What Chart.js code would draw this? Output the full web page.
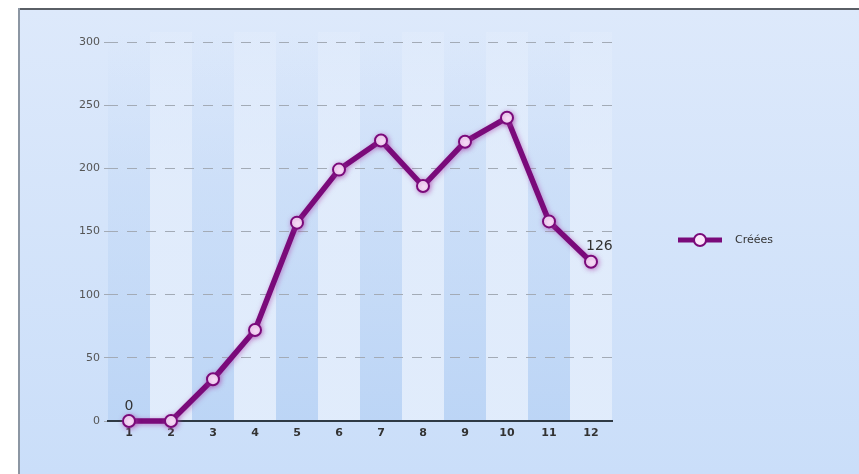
<!DOCTYPE html>
<html>
<head>
<meta charset="utf-8">
<script src="https://cdn.jsdelivr.net/npm/chart.js@4/dist/chart.umd.min.js"></script>
<style>
html,body{margin:0;padding:0;background:#fff;}
#wrap{width:859px;height:474px;position:relative;}
</style>
</head>
<body>
<div id="wrap"><canvas id="c" width="859" height="474"></canvas></div>
<script>
const categories = ['1','2','3','4','5','6','7','8','9','10','11','12'];
const creees = [0, 0, 33, 72, 157, 199, 222, 186, 221, 240, 158, 126];
const seriesLabel = 'Créées';
const yTicks = [0, 50, 100, 150, 200, 250, 300];
const labelledPoints = [0, 11];

const FONT = '"DejaVu Sans", Verdana, sans-serif';

const bgPlugin = {
  id: 'bg',
  beforeDraw(chart) {
    const ctx = chart.ctx;
    ctx.save();
    ctx.fillStyle = '#ffffff';
    ctx.fillRect(0, 0, chart.width, chart.height);
    const g = ctx.createLinearGradient(0, 9, 0, chart.height);
    g.addColorStop(0, '#dde9fb');
    g.addColorStop(1, '#cadef9');
    ctx.fillStyle = g;
    ctx.fillRect(19, 9, chart.width - 19, chart.height - 9);
    ctx.fillStyle = '#5a5f66';
    ctx.fillRect(19, 8, chart.width - 19, 2);
    ctx.fillStyle = '#8c96a3';
    ctx.fillRect(18, 8, 2, chart.height - 8);
    // stripes
    const a = chart.chartArea;
    const xs = chart.scales.x;
    const n = categories.length;
    const bw = (a.right - a.left) / n;
    for (let i = 0; i < n; i++) {
      const cx = xs.getPixelForValue(i);
      const x0 = cx - bw / 2;
      const sg = ctx.createLinearGradient(0, a.top - 10, 0, a.bottom);
      if (i % 2 === 0) {
        sg.addColorStop(0, 'rgba(200,220,247,0.0)');
        sg.addColorStop(0.4, 'rgba(195,217,246,0.5)');
        sg.addColorStop(1, 'rgba(185,211,245,0.85)');
      } else {
        sg.addColorStop(0, 'rgba(236,243,253,0.2)');
        sg.addColorStop(0.4, 'rgba(232,240,252,0.6)');
        sg.addColorStop(1, 'rgba(228,238,252,0.85)');
      }
      ctx.fillStyle = sg;
      ctx.fillRect(x0, a.top - 10, bw, a.bottom - a.top + 10);
    }
    ctx.restore();
  }
};

const shadowPlugin = {
  id: 'lineShadow',
  beforeDatasetDraw(chart) {
    const ctx = chart.ctx;
    ctx.save();
    ctx.shadowColor = 'rgba(170,60,170,0.55)';
    ctx.shadowBlur = 5;
    ctx.shadowOffsetX = 1;
    ctx.shadowOffsetY = 1;
  },
  afterDatasetDraw(chart) {
    chart.ctx.restore();
  }
};

const extrasPlugin = {
  id: 'extras',
  afterDatasetsDraw(chart) {
    const ctx = chart.ctx;
    const meta = chart.getDatasetMeta(0);
    ctx.save();
    ctx.font = '14px ' + FONT;
    ctx.fillStyle = '#333333';
    ctx.textBaseline = 'bottom';
    labelledPoints.forEach(i => {
      const p = meta.data[i];
      ctx.textAlign = i === 0 ? 'center' : 'left';
      const dx = i === 0 ? 0 : -5;
      ctx.fillText(String(creees[i]), p.x + dx, p.y - 8);
    });
    // legend
    const ly = 240;
    ctx.strokeStyle = '#7a0a7a';
    ctx.lineWidth = 5;
    ctx.beginPath();
    ctx.moveTo(678, ly);
    ctx.lineTo(722, ly);
    ctx.stroke();
    ctx.beginPath();
    ctx.arc(700, ly, 6, 0, Math.PI * 2);
    ctx.fillStyle = '#fbe6fb';
    ctx.fill();
    ctx.lineWidth = 2;
    ctx.stroke();
    ctx.font = '11px ' + FONT;
    ctx.fillStyle = '#333333';
    ctx.textAlign = 'left';
    ctx.textBaseline = 'middle';
    ctx.fillText(seriesLabel, 735, ly);
    ctx.restore();
  }
};

new Chart(document.getElementById('c'), {
  type: 'line',
  data: {
    labels: categories,
    datasets: [{
      label: seriesLabel,
      data: creees,
      borderColor: '#7a0a7a',
      borderWidth: 5.5,
      pointRadius: 6,
      pointBackgroundColor: '#fbe6fb',
      pointBorderColor: '#7a0a7a',
      pointBorderWidth: 2,
      tension: 0,
      clip: false
    }]
  },
  options: {
    responsive: false,
    animation: false,
    devicePixelRatio: 1,
    layout: { padding: { left: 19, top: 42, right: 247, bottom: 0 } },
    plugins: { legend: { display: false }, tooltip: { enabled: false }, title: { display: false } },
    scales: {
      x: {
        type: 'category',
        offset: true,
        grid: { display: false, drawTicks: false },
        border: { display: true, color: '#2f3a44', width: 2 },
        ticks: { color: '#333', font: { family: FONT, size: 11, weight: 'bold' }, padding: 6, maxRotation: 0 },
        afterFit(s) { s.height = 53; }
      },
      y: {
        min: 0, max: 300,
        afterBuildTicks(s) { s.ticks = yTicks.map(v => ({ value: v })); },
        grid: { color: '#a3abb6', lineWidth: 1, drawTicks: true, tickLength: 4, tickBorderDash: [10, 9] },
        border: { display: false, dash: [10, 9] },
        ticks: { color: '#555', font: { family: FONT, size: 11 }, padding: 4 },
        afterFit(s) { s.width = 89; }
      }
    }
  },
  plugins: [bgPlugin, shadowPlugin, extrasPlugin]
});
</script>
</body>
</html>
